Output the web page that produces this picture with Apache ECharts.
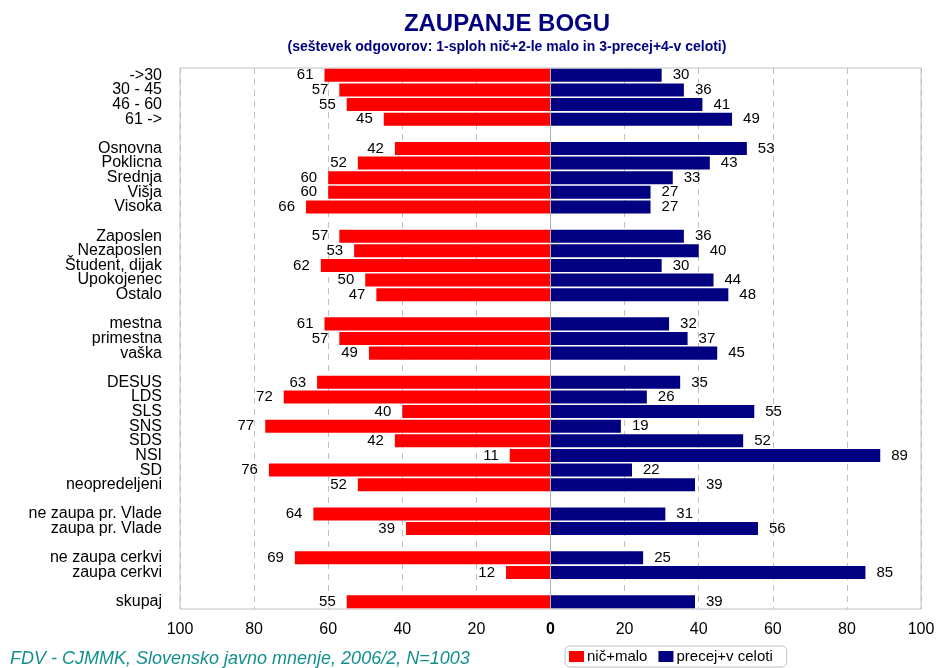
<!DOCTYPE html>
<html lang="sl">
<head>
    <meta charset="UTF-8"/>
    <title>Zaupanje Bogu</title>
    <script src="https://cdn.jsdelivr.net/npm/echarts@6/dist/echarts.min.js"></script>
</head>
<body style="margin:0">
<div id="main" style="width:939px;height:668px"></div>
<script type="text/javascript">
    // kategorije od zgoraj navzdol, '' = prazna vrstica med skupinami
    var categories = [
        '->30', '30 - 45', '46 - 60', '61 ->', '',
        'Osnovna', 'Poklicna', 'Srednja', 'Višja', 'Visoka', '',
        'Zaposlen', 'Nezaposlen', 'Študent, dijak', 'Upokojenec', 'Ostalo', '',
        'mestna', 'primestna', 'vaška', '',
        'DESUS', 'LDS', 'SLS', 'SNS', 'SDS', 'NSI', 'SD', 'neopredeljeni', '',
        'ne zaupa pr. Vlade', 'zaupa pr. Vlade', '',
        'ne zaupa cerkvi', 'zaupa cerkvi', '',
        'skupaj'
    ];
    var nicMalo = [
        61, 57, 55, 45, null,
        42, 52, 60, 60, 66, null,
        57, 53, 62, 50, 47, null,
        61, 57, 49, null,
        63, 72, 40, 77, 42, 11, 76, 52, null,
        64, 39, null,
        69, 12, null,
        55
    ];
    var precej = [
        30, 36, 41, 49, null,
        53, 43, 33, 27, 27, null,
        36, 40, 30, 44, 48, null,
        32, 37, 45, null,
        35, 26, 55, 19, 52, 89, 22, 39, null,
        31, 56, null,
        25, 85, null,
        39
    ];
    var xTicks = [-100, -80, -60, -40, -20, 0, 20, 40, 60, 80, 100];

    var font = 'Liberation Sans, Arial, sans-serif';
    var myChart = echarts.init(document.getElementById('main'));

    var option = {
        animation: false,
        textStyle: { fontFamily: font },
        grid: {
            left: 180, right: 18, top: 68, bottom: 59,
            show: true, borderColor: '#c0c0c0', borderWidth: 1
        },
        graphic: [
            { type: 'text', x: 507, y: 24, style: { text: 'ZAUPANJE BOGU', font: 'bold 24px ' + font, fill: '#000080', align: 'center', verticalAlign: 'middle' } },
            { type: 'text', x: 507, y: 47, style: { text: '(seštevek odgovorov: 1-sploh nič+2-le malo in 3-precej+4-v celoti)', font: 'bold 14px ' + font, fill: '#000080', align: 'center', verticalAlign: 'middle' } },
            { type: 'text', x: 10, y: 659, style: { text: 'FDV - CJMMK, Slovensko javno mnenje, 2006/2, N=1003', font: 'italic 18px ' + font, fill: '#138f8f', align: 'left', verticalAlign: 'middle' } }
        ],
        legend: {
            left: 565, top: 646,
            padding: [3, 14, 3, 4],
            itemWidth: 15, itemHeight: 11, itemGap: 11,
            borderColor: '#c0c0c0', borderWidth: 1, borderRadius: 5,
            icon: 'rect',
            textStyle: { fontSize: 15, color: '#000', padding: [0, 0, 0, -2] },
            data: ['nič+malo', 'precej+v celoti']
        },
        xAxis: {
            type: 'value',
            min: xTicks[0], max: xTicks[xTicks.length - 1], interval: 20,
            axisLine: { show: false },
            axisTick: { show: false },
            axisLabel: {
                fontSize: 16, color: '#000', margin: 13,
                formatter: function (v) { return v === 0 ? '{b|0}' : String(Math.abs(v)); },
                rich: { b: { fontSize: 16, fontWeight: 'bold', color: '#000' } }
            },
            splitLine: { show: true, lineStyle: { color: '#c0c0c0', type: [6, 5], width: 1 } }
        },
        yAxis: {
            type: 'category',
            inverse: true,
            data: categories,
            axisLine: { show: false, onZero: false },
            axisTick: { show: false },
            axisLabel: { fontSize: 16, color: '#000', margin: 18, interval: 0 }
        },
        series: [
            {
                name: 'nič+malo',
                type: 'bar',
                stack: 'vsi',
                barCategoryGap: '11%',
                itemStyle: { color: '#ff0000' },
                label: {
                    show: true, position: 'left', distance: 11,
                    fontSize: 15, color: '#000',
                    formatter: function (p) { return Math.abs(p.value); }
                },
                data: nicMalo.map(function (v) { return v == null ? null : -v; }),
                markLine: {
                    silent: true, symbol: 'none', label: { show: false },
                    lineStyle: { color: '#b0b0b0', type: 'solid', width: 1 },
                    data: [{ xAxis: 0 }]
                }
            },
            {
                name: 'precej+v celoti',
                type: 'bar',
                stack: 'vsi',
                barCategoryGap: '11%',
                itemStyle: { color: '#000080' },
                label: {
                    show: true, position: 'right', distance: 11,
                    fontSize: 15, color: '#000'
                },
                data: precej
            }
        ]
    };
    myChart.setOption(option);
</script>
</body>
</html>
